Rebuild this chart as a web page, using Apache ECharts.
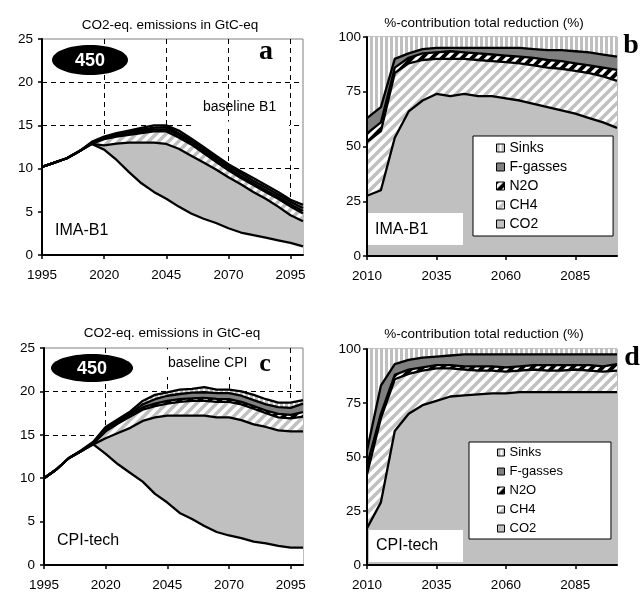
<!doctype html>
<html>
<head>
<meta charset="utf-8">
<script src="https://cdn.jsdelivr.net/npm/echarts@6/dist/echarts.min.js"></script>
<style>
  html, body { margin: 0; padding: 0; background: #fff; }
  #chart { width: 643px; height: 592px; }
</style>
</head>
<body>
<div id="chart"></div>
<script>
// years
var yearsAC = [1995, 2000, 2005, 2010, 2015, 2020, 2025, 2030, 2035, 2040, 2045, 2050, 2055, 2060, 2065, 2070, 2075, 2080, 2085, 2090, 2095, 2100];
var yearsBD = [2010, 2015, 2020, 2025, 2030, 2035, 2040, 2045, 2050, 2055, 2060, 2065, 2070, 2075, 2080, 2085, 2090, 2095, 2100];

// panel a: IMA-B1, emissions (GtC-eq), top of each stacked band
var aRemaining = [10.2, 10.7, 11.2, 12.0, 12.85, 12.2, 11.0, 9.6, 8.3, 7.3, 6.5, 5.6, 4.8, 4.2, 3.7, 3.1, 2.6, 2.3, 2.0, 1.7, 1.4, 1.0];
var aCO2 = [10.2, 10.7, 11.2, 12.0, 12.85, 12.7, 12.9, 13.0, 13.0, 13.0, 12.85, 12.3, 11.5, 10.7, 9.9, 9.0, 8.2, 7.3, 6.5, 5.6, 4.6, 3.9];
var aCH4 = [10.2, 10.7, 11.2, 12.0, 12.9, 13.4, 13.7, 13.9, 14.1, 14.3, 14.3, 13.6, 12.8, 11.8, 10.8, 9.8, 8.9, 8.1, 7.3, 6.5, 5.6, 4.8];
var aN2O = [10.2, 10.7, 11.2, 12.0, 12.95, 13.5, 13.8, 14.1, 14.3, 14.5, 14.55, 13.85, 13.05, 12.05, 11.05, 10.05, 9.15, 8.3, 7.5, 6.7, 5.85, 5.1];
var aFgas = [10.2, 10.7, 11.2, 12.0, 13.0, 13.6, 14.0, 14.3, 14.5, 14.75, 14.8, 14.1, 13.3, 12.3, 11.3, 10.3, 9.45, 8.6, 7.8, 7.0, 6.15, 5.45];
var aBaseline = [10.2, 10.7, 11.2, 12.0, 13.1, 13.7, 14.1, 14.4, 14.7, 15.0, 15.0, 14.4, 13.5, 12.5, 11.5, 10.5, 9.7, 8.9, 8.1, 7.3, 6.4, 5.8];

// panel c: CPI-tech
var cRemaining = [10.0, 11.0, 12.3, 13.1, 13.9, 12.8, 11.6, 10.6, 9.6, 8.2, 7.2, 6.0, 5.3, 4.5, 3.8, 3.4, 3.1, 2.7, 2.5, 2.2, 2.0, 2.0];
var cCO2 = [10.0, 11.0, 12.3, 13.1, 13.9, 14.6, 15.2, 15.8, 16.6, 17.0, 17.2, 17.2, 17.2, 17.2, 17.0, 17.0, 16.7, 16.2, 15.9, 15.5, 15.4, 15.4];
var cCH4 = [10.0, 11.0, 12.3, 13.1, 14.0, 15.4, 16.3, 17.1, 17.9, 18.3, 18.6, 18.8, 18.9, 18.9, 18.8, 18.8, 18.5, 18.0, 17.5, 17.0, 16.9, 17.1];
var cN2O = [10.0, 11.0, 12.3, 13.1, 14.05, 15.55, 16.5, 17.35, 18.15, 18.6, 18.9, 19.1, 19.2, 19.25, 19.15, 19.1, 18.8, 18.3, 17.8, 17.4, 17.3, 17.6];
var cFgas = [10.0, 11.0, 12.3, 13.15, 14.1, 15.7, 16.65, 17.5, 18.5, 19.1, 19.5, 19.7, 19.85, 19.9, 19.8, 19.8, 19.5, 19.0, 18.5, 18.2, 18.1, 18.6];
var cBaseline = [10.0, 11.0, 12.3, 13.2, 14.2, 15.9, 16.8, 17.7, 18.9, 19.6, 19.9, 20.2, 20.3, 20.5, 20.2, 20.2, 20.0, 19.6, 19.1, 18.7, 18.7, 19.0];

// panel b: IMA-B1, % contribution (cumulative tops)
var bCO2 = [27.5, 30, 54, 66, 71, 74, 73, 74, 73, 73, 72, 71, 69.5, 68, 66.5, 65, 63, 61, 58.5];
var bCH4 = [52, 57, 83.5, 88, 89.5, 90, 90, 90, 89.5, 89, 88.5, 88, 87, 86, 85.5, 84.5, 83.5, 82, 80];
var bN2O = [56, 61, 86, 90.5, 92.5, 93, 93.5, 93, 92.5, 92, 91.5, 91, 90.5, 89.5, 89, 88, 87, 86, 85];
var bFgas = [63, 68, 90, 92.5, 94.5, 95, 95, 95, 95, 95, 95, 95, 94.5, 94, 94, 93.5, 93, 92, 91];
var bSinks = [100, 100, 100, 100, 100, 100, 100, 100, 100, 100, 100, 100, 100, 100, 100, 100, 100, 100, 100];

// panel d: CPI-tech
var dCO2 = [17, 29, 62, 70, 74, 76, 78, 78.5, 79, 79.5, 79.5, 80, 80, 80, 80, 80, 80, 80, 80];
var dCH4 = [42, 68, 86, 88.5, 90, 91, 91, 90.5, 90, 90, 89.5, 90, 90.5, 90, 90, 90.5, 90, 89.5, 90];
var dN2O = [46, 70, 88, 90.5, 91.5, 92.5, 92.5, 92, 92, 92, 91.5, 92, 92.5, 92.5, 92.5, 92.5, 92.5, 92, 93];
var dFgas = [53, 83, 93, 95, 96, 96.5, 97, 97.5, 97.5, 97.5, 97.5, 97.5, 97.5, 97.5, 97.5, 97.5, 97.5, 97.5, 97.5];
var dSinks = [100, 100, 100, 100, 100, 100, 100, 100, 100, 100, 100, 100, 100, 100, 100, 100, 100, 100, 100];

var gases = ['Sinks', 'F-gasses', 'N2O', 'CH4', 'CO2'];
var FONT = '"Liberation Sans", Arial, sans-serif';

// fill patterns (excel style)
function diagTile(bg, fg, s, lw) {
  var c = document.createElement('canvas');
  c.width = s; c.height = s;
  var g = c.getContext('2d');
  g.fillStyle = bg; g.fillRect(0, 0, s, s);
  g.strokeStyle = fg; g.lineWidth = lw;
  g.beginPath();
  g.moveTo(-s, s); g.lineTo(s, -s);
  g.moveTo(0, s); g.lineTo(s, 0);
  g.moveTo(0, 2 * s); g.lineTo(2 * s, 0);
  g.stroke();
  return { image: c, repeat: 'repeat' };
}
function vertTile(bg, fg, w, fw) {
  var c = document.createElement('canvas');
  c.width = w; c.height = 2;
  var g = c.getContext('2d');
  g.fillStyle = bg; g.fillRect(0, 0, w, 2);
  g.fillStyle = fg; g.fillRect(0, 0, fw, 2);
  return { image: c, repeat: 'repeat' };
}
var fills = {
  'Sinks': vertTile('#ffffff', '#c0c0c0', 5, 3),
  'F-gasses': '#808080',
  'N2O': diagTile('#ffffff', '#000000', 10, 4),
  'CH4': diagTile('#ffffff', '#c0c0c0', 10, 3.5),
  'CO2': '#c0c0c0',
  'remaining': '#ffffff'
};

function pairs(xs, ys) { return xs.map(function (x, i) { return [x, ys[i]]; }); }

function fillSeries(name, gi, xs, ys) {
  return {
    type: 'line', name: name, xAxisIndex: 2 * gi, yAxisIndex: 2 * gi,
    data: pairs(xs, ys), symbol: 'none', silent: true, z: 2,
    lineStyle: { width: 0 },
    areaStyle: { color: fills[name], opacity: 1 }
  };
}
function lineSeries(gi, xs, ys) {
  return {
    type: 'line', xAxisIndex: 2 * gi, yAxisIndex: 2 * gi,
    data: pairs(xs, ys), symbol: 'none', silent: true, z: 3,
    lineStyle: { color: '#000', width: 2.3, join: 'round' }
  };
}

var series = [];
// panel a (grid 0), drawn from the top band down
[['Sinks', aBaseline], ['F-gasses', aFgas], ['N2O', aN2O], ['CH4', aCH4], ['CO2', aCO2], ['remaining', aRemaining]].forEach(function (p) {
  series.push(fillSeries(p[0], 0, yearsAC, p[1]));
});
[aBaseline, aFgas, aN2O, aCH4, aCO2, aRemaining].forEach(function (v) { series.push(lineSeries(0, yearsAC, v)); });
// panel b (grid 1)
[['Sinks', bSinks], ['F-gasses', bFgas], ['N2O', bN2O], ['CH4', bCH4], ['CO2', bCO2]].forEach(function (p) {
  series.push(fillSeries(p[0], 1, yearsBD, p[1]));
});
[bFgas, bN2O, bCH4, bCO2].forEach(function (v) { series.push(lineSeries(1, yearsBD, v)); });
// panel c (grid 2)
[['Sinks', cBaseline], ['F-gasses', cFgas], ['N2O', cN2O], ['CH4', cCH4], ['CO2', cCO2], ['remaining', cRemaining]].forEach(function (p) {
  series.push(fillSeries(p[0], 2, yearsAC, p[1]));
});
[cBaseline, cFgas, cN2O, cCH4, cCO2, cRemaining].forEach(function (v) { series.push(lineSeries(2, yearsAC, v)); });
// panel d (grid 3)
[['Sinks', dSinks], ['F-gasses', dFgas], ['N2O', dN2O], ['CH4', dCH4], ['CO2', dCO2]].forEach(function (p) {
  series.push(fillSeries(p[0], 3, yearsBD, p[1]));
});
[dFgas, dN2O, dCH4, dCO2].forEach(function (v) { series.push(lineSeries(3, yearsBD, v)); });

var grids = [
  { left: 42, top: 39, width: 261, height: 216 },
  { left: 367, top: 37, width: 250, height: 219 },
  { left: 44, top: 348, width: 259, height: 218 },
  { left: 367, top: 349, width: 250, height: 216 }
];
grids.forEach(function (g) { g.show = true; g.borderColor = '#808080'; g.borderWidth = 1; g.backgroundColor = '#fff'; });

function plain(v) { return String(v); }

var xAxes = [], yAxes = [];
function addAxes(gi, xmin, xmax, ymax, yint, dashed, ymargin) {
  var dash = { show: dashed, showMinLine: false, showMaxLine: false, lineStyle: { color: '#000', width: 1, type: [5, 4] } };
  // back axes: dashed grid lines only, behind the areas
  xAxes.push({ type: 'value', gridIndex: gi, position: 'bottom', min: xmin, max: xmax, interval: 25, z: 0,
    axisLine: { show: false }, axisTick: { show: false }, axisLabel: { show: false }, splitLine: dash });
  yAxes.push({ type: 'value', gridIndex: gi, position: 'left', min: 0, max: ymax, interval: yint, z: 0,
    axisLine: { show: false }, axisTick: { show: false }, axisLabel: { show: false }, splitLine: dash });
  // front axes: axis lines, ticks and labels
  xAxes.push({ type: 'value', gridIndex: gi, position: 'bottom', min: xmin, max: xmax, interval: 25, z: 10,
    axisLine: { show: true, onZero: false, lineStyle: { color: '#000', width: 2 } },
    axisTick: { show: true, length: 4, lineStyle: { color: '#000', width: 1.5 } },
    axisLabel: { color: '#000', fontSize: 13.5, fontFamily: FONT, margin: 13, showMaxLabel: false, formatter: plain },
    splitLine: { show: false } });
  yAxes.push({ type: 'value', gridIndex: gi, position: 'left', min: 0, max: ymax, interval: yint, z: 10,
    axisLine: { show: true, onZero: false, lineStyle: { color: '#000', width: 2 } },
    axisTick: { show: true, length: 4, lineStyle: { color: '#000', width: 1.5 } },
    axisLabel: { color: '#000', fontSize: 13.5, fontFamily: FONT, margin: ymargin, formatter: plain },
    splitLine: { show: false } });
}
addAxes(0, 1995, 2100, 25, 5, true, 9);
addAxes(1, 2010, 2100, 100, 25, false, 6);
addAxes(2, 1995, 2100, 25, 5, true, 9);
addAxes(3, 2010, 2100, 100, 25, false, 6);

function legendFor(left, top, fs, box, pad) {
  return {
    data: gases.map(function (n) { return { name: n, itemStyle: { color: fills[n] } }; }),
    orient: 'vertical', left: left, top: top, padding: pad,
    itemGap: 21 - Math.max(box, fs + 2), itemWidth: box, itemHeight: box, icon: 'rect',
    backgroundColor: '#fff', borderColor: '#000', borderWidth: 1,
    itemStyle: { borderColor: '#000', borderWidth: 1 },
    textStyle: { color: '#000', fontSize: fs, fontFamily: FONT },
    selectedMode: false, z: 20
  };
}

function txt(x, y, s, size, extra) {
  var st = { x: x, y: y, text: s, fill: '#000', font: size + 'px ' + FONT, align: 'left', verticalAlign: 'middle' };
  for (var k in (extra || {})) st[k] = extra[k];
  return { type: 'text', z: 50, style: st };
}
function letter(x, y, s, size) {
  return { type: 'text', z: 50, style: { x: x, y: y, text: s, fill: '#000', font: 'bold ' + size + 'px "Liberation Serif", "Times New Roman", serif', align: 'center', verticalAlign: 'middle' } };
}
function badge(cx, cy, rx, ry) {
  return [
    { type: 'ellipse', z: 50, shape: { cx: cx, cy: cy, rx: rx, ry: ry }, style: { fill: '#000' } },
    txt(cx, cy + 1, '450', 18, { fill: '#fff', align: 'center', font: 'bold 18px ' + FONT })
  ];
}
function whiteBox(x, y, w, h) {
  return { type: 'rect', z: 45, shape: { x: x, y: y, width: w, height: h }, style: { fill: '#fff' } };
}

var graphics = [
  txt(170, 25, 'CO2-eq. emissions in GtC-eq', 13.5, { align: 'center' }),
  txt(484, 23, '%-contribution total reduction (%)', 13.5, { align: 'center' }),
  txt(172, 333, 'CO2-eq. emissions in GtC-eq', 13.5, { align: 'center' }),
  txt(484, 334, '%-contribution total reduction (%)', 13.5, { align: 'center' }),
  // panel a
  whiteBox(195, 121.5, 94, 5),
  txt(203, 107, 'baseline B1', 14),
  txt(55, 231, 'IMA-B1', 16),
  letter(266, 52, 'a', 28),
  // panel b
  whiteBox(368, 213, 95, 32),
  txt(375, 230, 'IMA-B1', 16),
  letter(631, 46, 'b', 28),
  // panel c
  whiteBox(157, 349.5, 125, 27.5),
  txt(168, 363, 'baseline CPI', 14),
  letter(265, 364, 'c', 26),
  txt(57, 541, 'CPI-tech', 16),
  // panel d
  whiteBox(369, 530, 94, 32),
  txt(376, 546, 'CPI-tech', 16),
  letter(632, 358, 'd', 28)
].concat(badge(90, 60, 38, 15)).concat(badge(92, 368, 41, 14));

var chart = echarts.init(document.getElementById('chart'), null, { renderer: 'canvas' });
chart.setOption({
  animation: false,
  backgroundColor: '#fff',
  textStyle: { fontFamily: FONT },
  grid: grids,
  xAxis: xAxes,
  yAxis: yAxes,
  legend: [
    legendFor(473, 136, 14, 8, [5, 46, 5, 23]),
    legendFor(469, 442, 13, 7, [4, 48, 4, 28])
  ],
  graphic: graphics,
  series: series
});
</script>
</body>
</html>
